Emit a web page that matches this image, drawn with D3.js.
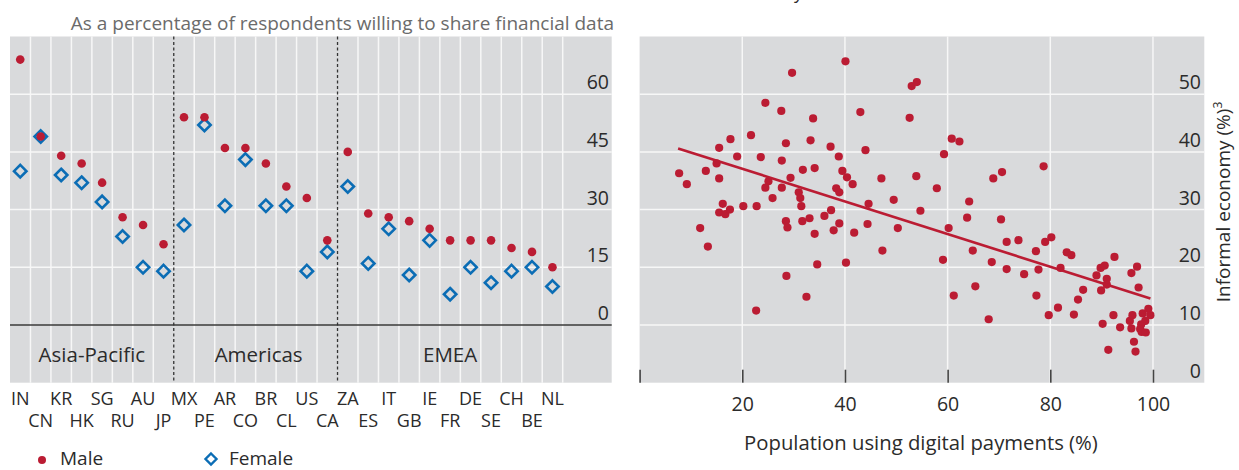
<!DOCTYPE html>
<html>
<head>
<meta charset="utf-8">
<script src="https://cdn.jsdelivr.net/npm/d3@7"></script>
<style>
  html, body { margin: 0; padding: 0; background: #fff; }
  svg { display: block; font-family: "Open Sans", "Noto Sans", sans-serif; }
</style>
</head>
<body>
<svg id="chart" width="1239" height="470"></svg>
<script>
// ---------- Left panel data ----------
const categories = ["IN","CN","KR","HK","SG","RU","AU","JP","MX","PE","AR","CO","BR","CL","US","CA","ZA","ES","IT","GB","IE","FR","DE","SE","CH","BE","NL"];
const maleValues = [69,49,44,42,37,28,26,21,54,54,46,46,42,36,33,22,45,29,28,27,25,22,22,22,20,19,15];
const femaleValues = [40,49,39,37,32,23,15,14,26,52,31,43,31,31,14,19,36,16,25,13,22,8,15,11,14,15,10];
const regionNames = ["Asia-Pacific","Americas","EMEA"];
const regionFirst = ["IN","MX","ZA"];
const regionLast = ["JP","CA","NL"];
const leftTicks = [0,15,30,45,60];
const leftSubtitle = "As a percentage of respondents willing to share financial data";
const legendLabels = ["Male","Female"];

// ---------- Right panel data ----------
const digitalPayments = [
  24.5,27.6,17.7,21.7,15.5,28.5,19.0,23.6,27.7,15.0,7.7,12.9,9.2,15.5,25.1,24.5,27.7,25.9,16.2,15.5,16.7,17.6,20.2,22.8,28.5,28.8,11.8,13.3,28.6,22.7,
  29.7,40.1,53.0,54.0,33.8,43.0,52.6,33.3,37.2,44.0,38.8,31.8,34.1,29.4,39.5,40.4,41.5,47.1,53.9,31.0,31.3,38.3,38.9,31.5,44.6,49.5,54.7,37.3,36.0,33.1,31.7,38.9,37.8,34.1,41.8,44.4,50.3,47.3,34.6,40.2,32.5,
  60.8,62.3,59.3,78.7,68.9,70.6,57.9,64.2,63.8,70.4,60.2,71.5,73.8,79.0,80.2,77.2,64.9,59.1,68.6,71.5,74.9,77.7,82.0,65.4,61.2,77.3,68.0,79.7,81.5,
  83.2,84.1,92.5,89.0,89.8,90.6,91.0,91.0,89.9,86.4,85.4,96.9,95.8,97.2,84.6,90.2,92.3,93.6,95.5,96.0,95.8,98.0,99.1,99.5,98.5,97.7,97.5,97.8,98.6,96.3,96.6,91.3
];
const informalEconomy = [
  48.5,47.1,42.2,42.9,40.7,41.5,39.2,39.1,38.5,38.0,36.3,36.7,34.4,35.4,34.9,33.8,33.8,32.0,31.0,29.5,29.2,30.0,30.6,30.6,28.0,26.9,26.8,23.6,18.5,12.5,
  53.7,55.7,51.4,52.1,45.8,46.9,45.9,42.0,40.9,40.3,39.2,36.9,37.2,35.5,36.7,35.6,34.4,35.4,35.8,33.0,32.0,33.7,33.0,30.6,31.0,31.7,29.8,29.9,28.9,28.5,28.0,27.6,26.4,25.8,26.0,27.5,26.8,22.9,20.5,20.8,14.9,
  42.3,41.8,39.6,37.5,35.4,36.5,33.7,31.4,28.6,28.3,26.8,24.4,24.7,24.4,25.2,22.8,22.9,21.3,20.9,19.7,18.8,19.6,19.9,16.7,15.1,15.1,11.0,11.7,13.0,
  22.6,22.1,21.8,18.6,19.9,20.3,18.0,17.0,16.0,16.1,14.4,20.1,19.0,16.5,11.8,10.2,11.7,9.6,10.7,11.7,9.4,12.0,12.8,11.7,10.7,10.1,9.3,8.8,8.7,7.1,5.4,5.7
];
const trendX = [7.5, 99.5];
const trendY = [40.6, 14.6];
const rightYTicks = [0,10,20,30,40,50];
const rightXTicks = [0,20,40,60,80,100];
const rightXLabel = "Population using digital payments (%)";
const rightYLabel = "Informal economy (%)";
const rightTitle = "the informal economy";

// ---------- Styles ----------
const FONT = "\"Open Sans\", \"Noto Sans\", sans-serif";
const BG = "#d9dadc";
const GRID = "#f7f7f7";
const RED = "#bb1c33";
const BLUE = "#0b6db5";
const TXT = "#2b2b2b";

const svg = d3.select("#chart");

// ================= LEFT PANEL =================
const L = { left: 10, right: 611.7, top: 36.5, bottom: 382.7, bandRight: 562.7 };
const xL = d3.scaleBand().domain(categories).range([L.left, L.bandRight]).padding(0);
const yL = d3.scaleLinear().domain([-15, 75]).range([L.bottom, L.top]);

const gL = svg.append("g");
gL.append("rect").attr("x", L.left).attr("y", L.top)
  .attr("width", L.right - L.left).attr("height", L.bottom - L.top).attr("fill", BG);

const boundaryX = categories.slice(1).map(c => xL(c));
boundaryX.push(L.bandRight);
const dashedX = regionFirst.slice(1).map(c => xL(c));
gL.selectAll("line.vg").data(boundaryX.filter(x => !dashedX.some(d => Math.abs(d - x) < 0.5)))
  .join("line").attr("class", "vg")
  .attr("x1", d => d).attr("x2", d => d).attr("y1", L.top).attr("y2", L.bottom)
  .attr("stroke", GRID).attr("stroke-width", 1.5);

gL.selectAll("line.hg").data([15,30,45,60])
  .join("line").attr("class", "hg")
  .attr("x1", L.left).attr("x2", L.right).attr("y1", d => yL(d)).attr("y2", d => yL(d))
  .attr("stroke", GRID).attr("stroke-width", 1.5);

gL.append("line").attr("x1", L.left).attr("x2", L.right).attr("y1", yL(0)).attr("y2", yL(0))
  .attr("stroke", "#3a3a3a").attr("stroke-width", 1.5);

gL.selectAll("line.dash").data(dashedX).join("line").attr("class", "dash")
  .attr("x1", d => d).attr("x2", d => d).attr("y1", L.top).attr("y2", L.bottom)
  .attr("stroke", "#333").attr("stroke-width", 1.3).attr("stroke-dasharray", "3,2.5");

gL.selectAll("text.yt").data(leftTicks).join("text").attr("class", "yt")
  .attr("x", 609).attr("y", d => yL(d) - 5).attr("text-anchor", "end")
  .attr("font-size", 19.5).attr("fill", TXT).text(d => d);

gL.append("text").attr("x", 614).attr("y", 30).attr("text-anchor", "end")
  .attr("font-size", 19).attr("fill", "#6b6b6b").text(leftSubtitle);

gL.selectAll("text.reg").data(regionNames).join("text").attr("class", "reg")
  .attr("x", (d, i) => (xL(regionFirst[i]) + xL(regionLast[i]) + xL.bandwidth()) / 2 + (i === 1 ? 3 : 0))
  .attr("y", 362).attr("text-anchor", "middle").attr("font-size", 20.5).attr("fill", TXT)
  .text(d => d);

const axL = d3.axisBottom(xL).tickSize(0).tickPadding(0);
const axG = gL.append("g").attr("transform", `translate(0,${L.bottom})`).call(axL);
axG.select(".domain").remove();
axG.selectAll(".tick text")
  .attr("font-family", FONT)
  .attr("font-size", 18).attr("fill", TXT)
  .attr("y", (d, i) => i % 2 === 0 ? 22 : 44).attr("dy", 0);

const dia = "M0,-6.2L6.2,0L0,6.2L-6.2,0Z";
gL.selectAll("path.fem").data(categories).join("path").attr("class", "fem")
  .attr("transform", (d, i) => `translate(${xL(d) + xL.bandwidth() / 2},${yL(femaleValues[i])})`)
  .attr("d", dia).attr("fill", "none").attr("stroke", BLUE).attr("stroke-width", 2.6);

gL.selectAll("circle.male").data(categories).join("circle").attr("class", "male")
  .attr("cx", d => xL(d) + xL.bandwidth() / 2).attr("cy", (d, i) => yL(maleValues[i]))
  .attr("r", 4.3).attr("fill", RED);

const lg = gL.append("g");
lg.append("circle").attr("cx", 42).attr("cy", 460).attr("r", 4).attr("fill", RED);
lg.append("text").attr("x", 60).attr("y", 465).attr("font-size", 19).attr("fill", TXT).text(legendLabels[0]);
lg.append("path").attr("transform", "translate(211,459)").attr("d", "M0,-5.5L5.5,0L0,5.5L-5.5,0Z")
  .attr("fill", "none").attr("stroke", BLUE).attr("stroke-width", 2.4);
lg.append("text").attr("x", 229).attr("y", 465).attr("font-size", 19).attr("fill", TXT).text(legendLabels[1]);

// ================= RIGHT PANEL =================
const R = { left: 639.6, right: 1204.3, top: 36.5, bottom: 382.7 };
const xR = d3.scaleLinear().domain([0, 110]).range([R.left, R.right]);
const yR = d3.scaleLinear().domain([0, 60]).range([R.bottom, R.top]);
const gR = svg.append("g");

gR.append("text").attr("x", 803).attr("y", -1).attr("text-anchor", "end")
  .attr("font-size", 18).attr("fill", TXT).text(rightTitle);

gR.append("rect").attr("x", R.left).attr("y", R.top).attr("width", R.right - R.left)
  .attr("height", R.bottom - R.top).attr("fill", BG);

gR.selectAll("line.vg").data(rightXTicks.slice(1)).join("line").attr("class", "vg")
  .attr("x1", d => xR(d)).attr("x2", d => xR(d)).attr("y1", R.top).attr("y2", R.bottom)
  .attr("stroke", GRID).attr("stroke-width", 1.5);
gR.selectAll("line.hg").data(rightYTicks.slice(1)).join("line").attr("class", "hg")
  .attr("x1", R.left).attr("x2", R.right).attr("y1", d => yR(d)).attr("y2", d => yR(d))
  .attr("stroke", GRID).attr("stroke-width", 1.5);

const axR = d3.axisBottom(xR).tickValues(rightXTicks).tickSize(-13).tickPadding(0)
  .tickFormat(d => d === 0 ? "" : d);
const axRG = gR.append("g").attr("transform", `translate(0,${R.bottom})`).call(axR);
axRG.select(".domain").remove();
axRG.selectAll(".tick line").attr("stroke", "#444").attr("stroke-width", 1.6);
axRG.selectAll(".tick text").attr("font-family", FONT)
  .attr("font-size", 19.5).attr("fill", TXT).attr("y", 28).attr("dy", 0);

gR.selectAll("text.yt").data(rightYTicks).join("text").attr("class", "yt")
  .attr("x", 1201).attr("y", d => yR(d) - 5).attr("text-anchor", "end")
  .attr("font-size", 19.5).attr("fill", TXT).text(d => d);

gR.append("text").attr("x", (xR(0) + xR(110)) / 2 - 1).attr("y", 450).attr("text-anchor", "middle")
  .attr("font-size", 20.3).attr("fill", TXT).text(rightXLabel);
const yt = gR.append("text").attr("transform", "translate(1230,202) rotate(-90)")
  .attr("text-anchor", "middle").attr("font-size", 19).attr("fill", TXT);
yt.append("tspan").text(rightYLabel);
yt.append("tspan").attr("dy", -8).attr("font-size", 12).text("3");

const pts = digitalPayments.map((x, i) => [x, informalEconomy[i]]);
gR.selectAll("circle.pt").data(pts).join("circle").attr("class", "pt")
  .attr("cx", d => xR(d[0])).attr("cy", d => yR(d[1])).attr("r", 4.1).attr("fill", RED);

gR.append("line").attr("x1", xR(trendX[0])).attr("y1", yR(trendY[0]))
  .attr("x2", xR(trendX[1])).attr("y2", yR(trendY[1]))
  .attr("stroke", RED).attr("stroke-width", 2.6);
</script>
</body>
</html>
